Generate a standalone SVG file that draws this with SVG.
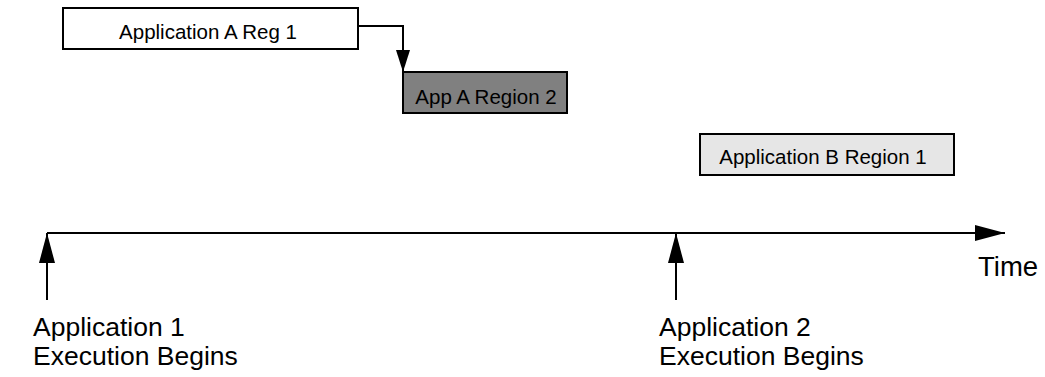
<svg xmlns="http://www.w3.org/2000/svg" width="1045" height="377" viewBox="0 0 1045 377">
  <style>
    .box { stroke: #000; stroke-width: 2; }
    .lbl { font-family: "Liberation Sans", Arial, sans-serif; font-size: 20.5px; fill: #000; text-anchor: middle; }
    .big { font-family: "Liberation Sans", Arial, sans-serif; font-size: 26.5px; fill: #000; }
    .wire { stroke: #000; stroke-width: 2; fill: none; }
  </style>
  <defs>
    <marker id="head" viewBox="0 0 30 16" refX="30" refY="8" markerWidth="30" markerHeight="16" markerUnits="userSpaceOnUse" orient="auto">
      <path d="M0,0 L30,8 L0,16 Z" fill="#000"/>
    </marker>
    <marker id="headSmall" viewBox="0 0 22 14" refX="22" refY="7" markerWidth="22" markerHeight="14" markerUnits="userSpaceOnUse" orient="auto">
      <path d="M0,0 L22,7 L0,14 Z" fill="#000"/>
    </marker>
  </defs>

  <g id="app-a-reg-1">
    <rect class="box" x="63" y="8" width="295" height="41" fill="#fff"/>
    <text class="lbl" x="208" y="39">Application A Reg 1</text>
  </g>

  <g id="app-a-region-2">
    <rect class="box" x="403" y="72" width="164" height="41" fill="#808080"/>
    <text class="lbl" x="486" y="104">App A Region 2</text>
  </g>

  <g id="app-b-region-1">
    <rect class="box" x="700" y="134" width="254" height="41" fill="#e6e6e6"/>
    <text class="lbl" x="823" y="164">Application B Region 1</text>
  </g>

  <g id="connectors">
    <path class="wire" d="M358,26 H403 V72" marker-end="url(#headSmall)"/>
    <path class="wire" d="M47,233 H1005" marker-end="url(#head)"/>
    <path class="wire" d="M47,300 V233" marker-end="url(#head)"/>
    <path class="wire" d="M676,300 V233" marker-end="url(#head)"/>
  </g>

  <g id="labels">
    <text class="big" x="978" y="276" style="font-size:27.5px">Time</text>
    <text class="big" x="33" y="336">Application 1<tspan x="33" dy="29">Execution Begins</tspan></text>
    <text class="big" x="659" y="336">Application 2<tspan x="659" dy="29">Execution Begins</tspan></text>
  </g>
</svg>
